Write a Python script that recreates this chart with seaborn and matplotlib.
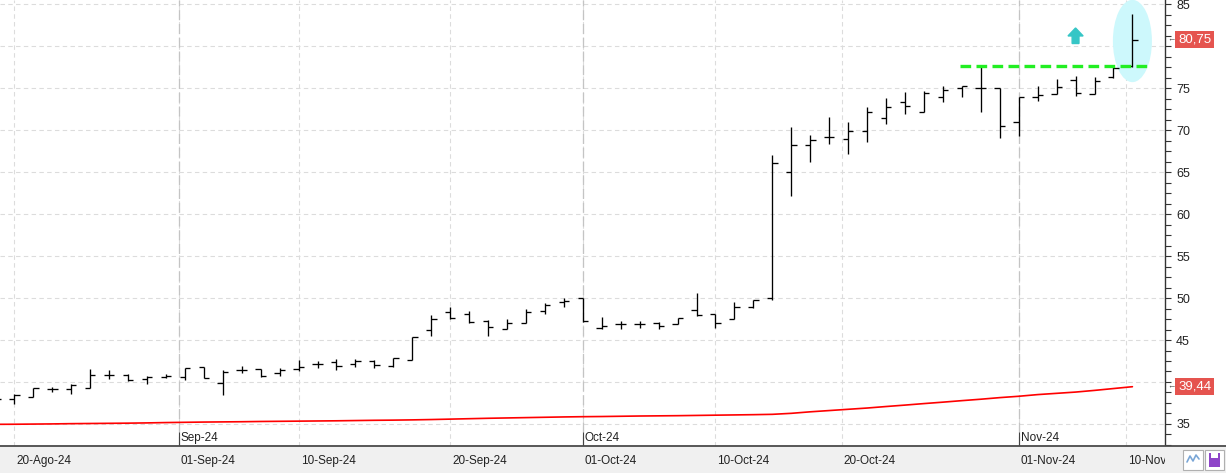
import numpy as np
import pandas as pd
import matplotlib
matplotlib.use("Agg")
import matplotlib.pyplot as plt
import seaborn as sns
from matplotlib.patches import Ellipse, Rectangle, FancyArrow
from matplotlib import transforms as mtrans
from matplotlib.ticker import MultipleLocator, FuncFormatter

# ---------------- data ----------------
dates = pd.bdate_range("2024-08-19", "2024-11-11")

opens = [37.70, 37.94, 38.25, 39.17, 39.13, 39.25, 40.83, 40.83, 40.36, 40.63,
         40.56, 41.82, 39.84, 41.46, 41.55, 41.07, 41.51, 42.14, 42.42, 42.14,
         42.46, 41.90, 42.62, 46.19, 48.30, 48.10, 47.30, 46.27, 46.98, 48.42,
         49.56, 49.96, 46.39, 46.87, 46.87, 46.98, 46.90, 48.57, 48.06, 47.46,
         48.93, 49.96, 65.00, 68.18, 69.13, 68.89, 69.88, 71.39, 73.30, 72.10,
         73.89, 75.00, 75.04, 75.00, 71.00, 73.93, 74.25, 75.95, 74.25, 76.27,
         77.62]
highs = [38.10, 38.54, 39.25, 39.44, 39.73, 41.55, 41.43, 41.00, 40.68, 40.95,
         41.70, 41.82, 41.40, 41.94, 41.55, 41.63, 42.62, 42.50, 42.70, 42.74,
         42.66, 42.82, 45.39, 47.98, 48.89, 48.49, 47.38, 47.54, 48.65, 49.37,
         49.96, 49.96, 47.78, 47.26, 47.26, 47.18, 47.58, 50.56, 48.06, 49.50,
         49.76, 67.02, 70.32, 69.40, 71.58, 70.92, 72.78, 73.77, 74.49, 74.64,
         75.20, 75.30, 77.46, 75.04, 73.93, 75.20, 76.07, 76.47, 76.27, 77.46,
         83.80]
lows = [37.60, 37.35, 38.25, 38.85, 38.54, 39.25, 40.36, 40.10, 39.73, 40.44,
        40.24, 40.44, 38.45, 41.03, 40.63, 40.75, 41.35, 41.63, 41.43, 41.82,
        41.63, 41.82, 42.62, 45.51, 47.46, 46.98, 45.51, 46.27, 46.98, 48.10,
        48.89, 47.10, 46.27, 46.27, 46.39, 46.27, 46.90, 47.90, 46.39, 47.46,
        48.85, 49.76, 62.18, 66.23, 68.30, 67.10, 68.61, 70.71, 71.90, 72.10,
        73.30, 73.93, 72.10, 69.00, 69.24, 73.40, 74.25, 74.10, 74.25, 76.20,
        77.50]
closes = [37.94, 38.45, 39.25, 39.17, 39.64, 40.83, 40.83, 40.20, 40.56, 40.75,
          41.70, 40.51, 41.15, 41.46, 40.67, 41.46, 41.79, 42.14, 41.87, 42.46,
          42.02, 42.82, 45.39, 47.46, 47.58, 47.10, 46.55, 46.98, 48.30, 49.17,
          49.68, 47.30, 46.67, 46.87, 46.87, 46.63, 47.58, 47.94, 47.06, 48.89,
          49.76, 66.04, 68.18, 68.77, 69.13, 69.88, 72.10, 72.70, 72.82, 74.37,
          74.73, 75.24, 75.04, 70.51, 73.89, 74.20, 75.08, 74.37, 75.83, 77.34,
          80.75]
moving_avg = [34.96, 34.97, 34.99, 35.01, 35.04, 35.06, 35.08, 35.10, 35.13, 35.17,
              35.20, 35.23, 35.25, 35.27, 35.30, 35.32, 35.34, 35.36, 35.38, 35.41,
              35.44, 35.46, 35.49, 35.53, 35.58, 35.63, 35.68, 35.72, 35.76, 35.80,
              35.84, 35.87, 35.89, 35.92, 35.95, 35.97, 35.99, 36.02, 36.05, 36.08,
              36.11, 36.15, 36.27, 36.45, 36.60, 36.75, 36.90, 37.08, 37.25, 37.43,
              37.60, 37.78, 37.95, 38.14, 38.30, 38.50, 38.65, 38.80, 39.00, 39.22,
              39.44]

ytick_values = [35, 40, 45, 50, 55, 60, 65, 70, 75, 80, 85]
hidden_ytick_labels = [40, 80]   # covered by the value boxes in the original
date_tick_dates = ["2024-08-20", "2024-09-01", "2024-09-10", "2024-09-20", "2024-10-01",
                   "2024-10-10", "2024-10-20", "2024-11-01", "2024-11-10"]
date_tick_labels = ["20-Ago-24", "01-Sep-24", "10-Sep-24", "20-Sep-24", "01-Oct-24",
                    "10-Oct-24", "20-Oct-24", "01-Nov-24", "10-Nov-24"]
month_dates = ["2024-09-01", "2024-10-01", "2024-11-01"]
month_labels = ["Sep-24", "Oct-24", "Nov-24"]
last_close_label = "80,75"
last_ma_label = "39,44"
resistance_level = 77.62
breakout_date = "2024-11-11"
signal_date = "2024-11-06"

# ---------------- style ----------------
sns.set_theme(style="white")
plt.rcParams["font.family"] = ["Liberation Sans", "DejaVu Sans"]

W, H = 1226, 473
fig = plt.figure(figsize=(W / 100, H / 100), dpi=100)
fig.patch.set_facecolor("white")
ax_w_px, ax_h_px = 1165, 446
ax = fig.add_axes([0, (H - ax_h_px) / H, ax_w_px / W, ax_h_px / H])
ax.set_facecolor("white")

# bottom gray band + axis line across full width
fig.patches.append(Rectangle((0, 0), 1, (H - ax_h_px) / H, transform=fig.transFigure,
                             facecolor="#f0f0f0", edgecolor="none", zorder=0))
fig.lines.append(plt.Line2D([0, 1], [(H - ax_h_px) / H] * 2, transform=fig.transFigure,
                            color="#4a4a4a", lw=1.3, zorder=5))

idx = np.arange(len(dates))
ords = np.array([d.toordinal() for d in dates])


def date_pos(d):
    return float(np.interp(pd.Timestamp(d).toordinal(), ords, idx))


tick_pos = [date_pos(d) for d in date_tick_dates]
month_pos = [date_pos(d) for d in month_dates]

ax.set_xlim(0.245, 61.72)
ax.set_ylim(32.38, 85.48)

# grid
for y in ytick_values:
    ax.axhline(y, color="#dcdcdc", lw=0.8, ls=(0, (4, 3)), zorder=0)
for p in tick_pos:
    ax.axvline(p, color="#dcdcdc", lw=0.8, ls=(0, (4, 3)), zorder=0)
for p in month_pos:
    ax.axvline(p, color="#c4c4c4", lw=0.9, ls=(0, (8, 3)), zorder=0)

# highlight ellipse behind last bar
bx = date_pos(breakout_date)
ax.add_patch(Ellipse((bx, 80.6), 2.06, 9.8, facecolor="#cdf8fc", edgecolor="none", zorder=1))

# moving average
sns.lineplot(x=idx, y=moving_avg, color="#ff0000", lw=1.2, ax=ax, zorder=3)

# OHLC bars
tw = 0.28
ax.vlines(idx, lows, highs, color="black", lw=0.95, zorder=4)
ax.hlines(opens, idx - tw, idx, color="black", lw=0.95, zorder=4)
ax.hlines(closes, idx, idx + tw, color="black", lw=0.95, zorder=4)

# resistance line
ax.hlines(resistance_level, bx - 9.1, bx + 0.9, color="#22ee22", lw=2.4,
          linestyles=(0, (3.2, 1.6)), zorder=5)

# signal arrow
sx = date_pos(signal_date)
ax.add_patch(FancyArrow(sx, 80.3, 0, 1.85, width=0.36, head_width=0.8, head_length=0.95,
                        length_includes_head=True, color="#35c6c6", zorder=5))

# spines
for s in ["left", "top", "bottom"]:
    ax.spines[s].set_visible(False)
ax.spines["right"].set_color("#333333")
ax.spines["right"].set_linewidth(1.0)

# y axis on the right
ax.yaxis.tick_right()
ax.set_yticks(ytick_values)
ax.yaxis.set_major_formatter(
    FuncFormatter(lambda v, p: "" if int(round(v)) in hidden_ytick_labels else f"{int(round(v))}"))
ax.yaxis.set_minor_locator(MultipleLocator(1.25))
ax.tick_params(axis="y", which="both", length=4, width=0.8, color="#333333",
               labelsize=9, pad=4, labelcolor="#222222", right=True, left=False)

# x axis ticks
ax.set_xticks(tick_pos)
ax.set_xticklabels([])
ax.tick_params(axis="x", which="major", length=8, width=0.8, color="#444444",
               direction="out", bottom=True, pad=0)
ax.vlines(month_pos, 0, 14 / ax_h_px, transform=ax.get_xaxis_transform(),
          color="#444444", lw=0.8, zorder=6)

clipbox = mtrans.TransformedBbox(mtrans.Bbox([[0, 0], [ax_w_px / W, 1]]), fig.transFigure)
lab_tr = mtrans.offset_copy(ax.get_xaxis_transform(), fig=fig, x=2, y=-15, units="dots")
for p, lab in zip(tick_pos, date_tick_labels):
    t = fig.text(p, 0, lab, transform=lab_tr, ha="left", va="center", fontsize=8.5,
                 color="#222222")
    t.set_clip_box(clipbox)
    t.set_clip_on(True)

mon_tr = mtrans.offset_copy(ax.get_xaxis_transform(), fig=fig, x=2, y=8, units="dots")
for p, lab in zip(month_pos, month_labels):
    ax.text(p, 0, lab, transform=mon_tr, ha="left", va="center", fontsize=8.5,
            color="#222222", zorder=6)

# last value labels
blend = mtrans.blended_transform_factory(ax.transAxes, ax.transData)
for val, lab in [(closes[-1], last_close_label), (moving_avg[-1], last_ma_label)]:
    ax.text(1178 / ax_w_px, val, lab, transform=blend, ha="left", va="center",
            fontsize=9.5, color="white", zorder=10, clip_on=False,
            bbox=dict(boxstyle="square,pad=0.2", fc="#e5544f", ec="none"))
    ax.text(1167 / ax_w_px, val, "\u2190", transform=blend, ha="left", va="center",
            fontsize=6, color="#444444", zorder=10, clip_on=False)

# small icons bottom-right
def fig_rect(x0, y0, x1, y1, **kw):
    r = Rectangle((x0 / W, (H - y1) / H), (x1 - x0) / W, (y1 - y0) / H,
                  transform=fig.transFigure, **kw)
    fig.patches.append(r)

fig_rect(1183, 450, 1203, 470, facecolor="white", edgecolor="#b0b0b0", lw=0.8, zorder=6)
fig_rect(1205, 450, 1224, 470, facecolor="white", edgecolor="#b0b0b0", lw=0.8, zorder=6)
zx = np.array([1187, 1190, 1193, 1196, 1199]) / W
zy = (H - np.array([462, 456, 461, 455, 459])) / H
fig.lines.append(plt.Line2D(zx, zy, transform=fig.transFigure, color="#7aa6d6", lw=1.2, zorder=7))
fig_rect(1209, 453, 1220, 467, facecolor="#8e44c8", edgecolor="none", zorder=7)
fig_rect(1211, 453, 1218, 458, facecolor="white", edgecolor="none", zorder=8)

fig.savefig("out.png", dpi=100, facecolor=fig.get_facecolor())
